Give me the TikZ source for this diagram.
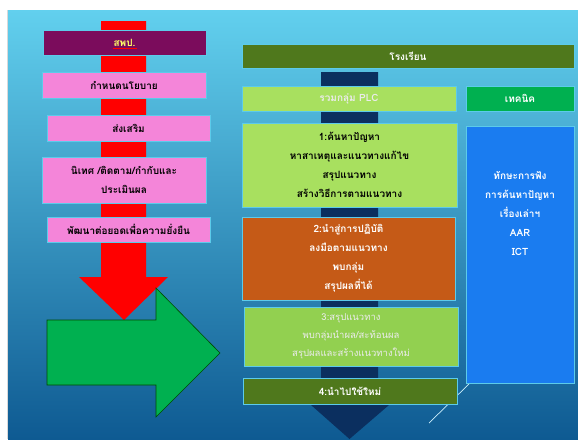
\documentclass[tikz,border=0pt]{standalone}
\usepackage{fontspec}
\newfontfamily\thaifont[Script=Thai]{Loma}
\usetikzlibrary{shapes.geometric}
\definecolor{bgtop}{HTML}{62D0EE}
\definecolor{bgbot}{HTML}{0E5A92}
\definecolor{pinkbox}{HTML}{F485D9}
\definecolor{purplebox}{HTML}{7B0C5C}
\definecolor{olivebox}{HTML}{4F781C}
\definecolor{navybar}{HTML}{0B2F5F}
\definecolor{lightgreen}{HTML}{A8E05F}
\definecolor{midgreen}{HTML}{92D050}
\definecolor{orangebox}{HTML}{C55A17}
\definecolor{bluebox}{HTML}{1A7CF0}
\definecolor{techgreen}{HTML}{00B050}
\definecolor{edgecyan}{HTML}{5CCBEA}
\definecolor{redarrow}{HTML}{FF0000}
\definecolor{greenarrow}{HTML}{00B050}
\definecolor{yellowtext}{HTML}{FFFF66}
\tikzset{
  boxbase/.style={draw=edgecyan, line width=0.8pt, inner sep=0pt, align=center,
    font=\thaifont\bfseries\fontsize{10}{19}\selectfont},
  pinkstep/.style={boxbase, fill=pinkbox, text=black},
}
\begin{document}
\begin{tikzpicture}[x=1pt,y=-1pt]
\useasboundingbox (0,0) rectangle (578,439);
\fill[white] (0,0) rectangle (578,439);
\draw[black!15, line width=0.6pt] (7.5,10) -- (7.5,439);
\shade[top color=bgtop, bottom color=bgbot] (8,10) rectangle (578,439);

% red arrow (left)
\fill[redarrow] (101,21) -- (146,21) -- (146,277) -- (168,277) -- (124,320) -- (79,277) -- (101,277) -- cycle;

% left boxes
\node[boxbase, fill=purplebox, text=yellowtext, minimum width=163pt, minimum height=25pt] (spp) at (124.5,42.5) {สพป.};
\draw[red, line width=0.5pt] ([xshift=-12pt,yshift=-6pt]spp.center) -- ([xshift=12pt,yshift=-6pt]spp.center);
\node[pinkstep, minimum width=164pt, minimum height=26pt] (policy) at (124,85) {กำหนดนโยบาย};
\node[pinkstep, minimum width=163pt, minimum height=26pt] (promote) at (128.5,128) {ส่งเสริม};
\node[pinkstep, minimum width=164pt, minimum height=46pt] (supervise) at (124,180) {นิเทศ /ติดตาม/กำกับและ\\ประเมินผล};
\node[pinkstep, minimum width=163pt, minimum height=25pt] (develop) at (128.5,229.5) {พัฒนาต่อยอดเพื่อความยั่งยืน};

% green arrow
\draw[fill=greenarrow, draw=black!70!green, line width=0.6pt] (47,320) -- (156,320) -- (156,288) -- (220,353) -- (156,417) -- (156,385) -- (47,385) -- cycle;

% navy bar with arrow head
\fill[navybar] (321,72) -- (378,72) -- (378,405) -- (389,405) -- (349.5,439) -- (311,405) -- (321,405) -- cycle;

% thin diagonal line
\draw[white!80!cyan, line width=0.7pt] (470,383) -- (429,423);

% right boxes
\node[boxbase, fill=olivebox, text=white, minimum width=332pt, minimum height=24pt] (school) at (408,56) {โรงเรียน};
\node[boxbase, fill=lightgreen, text=white!92!black, minimum width=214pt, minimum height=25pt] (plc) at (349,98.5) {รวมกลุ่ม PLC};
\node[boxbase, fill=techgreen, text=white, minimum width=108pt, minimum height=25pt] (tech) at (520,98.5) {เทคนิค};
\node[boxbase, fill=lightgreen, text=black, minimum width=215pt, minimum height=84pt] (s1) at (349.5,165) {1:ค้นหาปัญหา\\หาสาเหตุและแนวทางแก้ไข\\สรุปแนวทาง\\สร้างวิธีการตามแนวทาง};
\node[boxbase, fill=bluebox, minimum width=108pt, minimum height=257pt] (blue) at (520,254.5) {};
\node[boxbase, draw=none, text=white] (bluetext) at (520,213.5) {ทักษะการฟัง\\การค้นหาปัญหา\\เรื่องเล่าฯ\\AAR\\ICT};
\node[boxbase, fill=orangebox, text=white, minimum width=213pt, minimum height=83pt] (s2) at (348.5,258.5) {2:นำสู่การปฏิบัติ\\ลงมือตามแนวทาง\\พบกลุ่ม\\สรุปผลที่ได้};
\node[boxbase, fill=midgreen, text=white!92!black, minimum width=214pt, minimum height=59pt, font=\thaifont\fontsize{9.5}{18}\selectfont] (s3) at (351,336.5) {3:สรุปแนวทาง\\พบกลุ่มนำผล/สะท้อนผล\\สรุปผลและสร้างแนวทางใหม่};
\node[boxbase, fill=olivebox, text=white, minimum width=214pt, minimum height=26pt] (s4) at (350,391) {4:นำไปใช้ใหม่};
\end{tikzpicture}
\end{document}
